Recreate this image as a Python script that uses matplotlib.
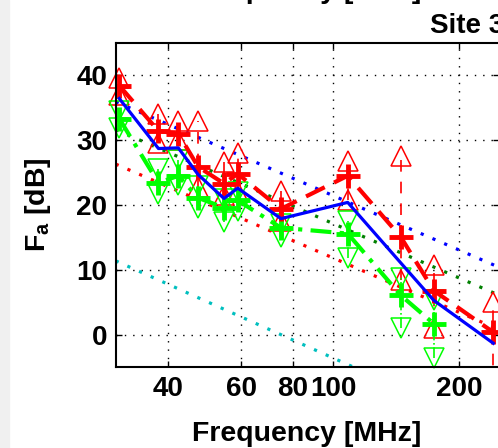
import matplotlib
matplotlib.use("Agg")
import matplotlib.pyplot as plt
from matplotlib.patches import Rectangle

# frequencies of the measurement clusters [MHz]
freq = [30.6, 38.0, 42.4, 47.3, 54.6, 58.9, 74.8, 108.2, 145.0, 174.2, 242.0]

# blue solid line
blue_db = [36.4, 28.7, 28.8, 24.7, 21.0, 22.6, 17.9, 20.4, 11.1, 5.3, -1.3]

# red: centre (+), upper and lower (triangles)
red_mid = [38.4, 31.4, 31.0, 25.9, 23.3, 24.8, 19.4, 24.5, 15.1, 6.8, 0.4]
red_hi = [39.6, 34.0, 32.9, 32.9, 26.7, 28.0, 22.2, 26.8, 27.6, 10.8, 5.1]
red_lo = [37.0, 29.5, 30.0, 22.8, 21.5, 22.0, 17.5, 20.7, 8.4, 1.0, -8.0]

# green: centre (+), upper and lower (triangles)
green_freq = freq[:10]
green_mid = [33.3, 23.4, 24.5, 21.1, 19.6, 20.7, 16.5, 15.6, 6.1, 1.7]
green_hi = [34.5, 25.6, 27.0, 23.0, 20.9, 22.0, 17.1, 17.6, 8.7, 5.3]
green_lo = [31.9, 21.7, 23.1, 19.6, 17.4, 19.0, 15.0, 11.9, 1.0, -3.6]

# straight reference curves (end points at 30 and 250 MHz)
ref_freq = [30, 250]
business_db = [35.9, 10.4]
residential_db = [31.6, 6.1]
rural_db = [26.3, 0.8]
quiet_db = [11.4, -15.0]

YMIN, YMAX = -5, 45

plt.rcParams["font.family"] = ["Liberation Sans", "DejaVu Sans"]
plt.rcParams["font.weight"] = "bold"

fig = plt.figure(figsize=(4.98, 4.48), dpi=100)
fig.patches.append(Rectangle((0, 0), 9 / 498, 1, transform=fig.transFigure,
                             color="#f0f0f0", zorder=0))
ax = fig.add_axes([115.7 / 498, 1 - 367.3 / 448, 383.5 / 498, 324.6 / 448])

dot = (0, (1, 3))
ax.plot(ref_freq, business_db, color="b", lw=2.3, ls=dot)
ax.plot(ref_freq, residential_db, color=(0, 0.5, 0), lw=2.3, ls=dot)
ax.plot(ref_freq, rural_db, color="r", lw=2.3, ls=dot)
ax.plot(ref_freq, quiet_db, color=(0, 0.75, 0.75), lw=2.3, ls=dot)


def end_markers(f, vals, marker, color):
    # triangles may stick out of the box, but only if inside the y range
    for v in vals:
        inside = YMIN <= v <= YMAX
        ax.plot([f], [v], ls="none", marker=marker, ms=15, mfc="none",
                mec=color, mew=1.1, clip_on=not inside)


for f, lo, hi in zip(freq, red_lo, red_hi):
    ax.plot([f, f], [lo, hi], color="r", lw=1.2, ls=(0, (7, 6)))
    end_markers(f, [lo, hi], "^", "r")
for f, lo, hi in zip(green_freq, green_lo, green_hi):
    ax.plot([f, f], [lo, hi], color=(0, 1, 0), lw=1.2, ls="-.")
    end_markers(f, [lo, hi], "v", (0, 1, 0))

ax.plot(green_freq, green_mid, color=(0, 1, 0), lw=3, ls=(0, (5, 2, 1, 2)),
        marker="+", ms=17, mew=3.5)
ax.plot(freq, red_mid, color="r", lw=3, ls=(0, (5, 2.5)),
        marker="+", ms=17, mew=3.5)
ax.plot(freq, blue_db, color="b", lw=2.3)

ax.set_xscale("log")
ax.set_xlim(30, 250)
ax.set_ylim(YMIN, YMAX)
ax.set_xticks([40, 60, 80, 100, 200])
ax.set_xticklabels(["40", "60", "80", "100", "200"])
ax.minorticks_off()
ax.set_yticks([0, 10, 20, 30, 40])
ax.tick_params(direction="in", top=True, right=True, length=4, width=1,
               labelsize=20, pad=6)
for s in ax.spines.values():
    s.set_linewidth(1.5)
ax.grid(True, color="k", ls=(0, (1, 5)), lw=1)

fig.text(307 / 498, 1 - 441 / 448, "Frequency [MHz]", ha="center",
         va="baseline", fontsize=20.5)
fig.text(38 / 498, 1 - 205 / 448, r"F$_\mathregular{a}$ [dB]", ha="center",
         va="center", rotation=90, fontsize=20.5)
fig.text(430 / 498, 1 - 33 / 448, "Site 3", ha="left", va="baseline",
         fontsize=20)
# x label of the panel above, mostly outside the crop
fig.text(307 / 498, 1 + 2 / 448, "Frequency [MHz]", ha="center",
         va="baseline", fontsize=20.5)

fig.savefig("out.png", dpi=100)
